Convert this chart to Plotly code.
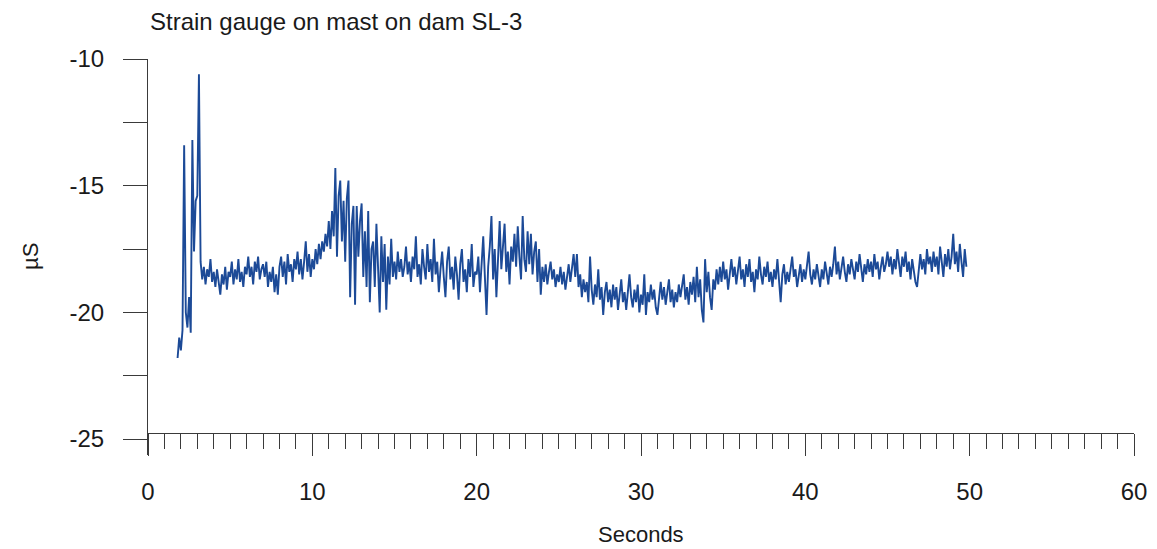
import plotly.graph_objects as go

# Sample interval of the record (seconds)
dt = 0.1

# Segment A: start-up spikes (1.8 s - 3.1 s)
seg_a_start = 1.8
seg_a = [-21.8, -21.0, -21.5, -20.7, -13.4, -20.0, -20.6, -19.4, -20.8, -13.2,
         -17.6, -15.6, -15.4, -10.6]

# Segment B: baseline (3.2 s - 10.9 s)
seg_b_start = 3.2
seg_b = [-18.0, -18.7, -18.2, -18.9, -18.3, -18.6, -17.9, -18.8,
         -18.4, -19.0, -18.3, -18.8, -19.3, -18.5, -18.9, -18.2, -19.1, -18.4,
         -18.6, -18.0, -18.9, -18.3, -18.7, -17.9, -18.8, -18.4, -19.0, -18.2,
         -18.5, -17.8, -18.6, -18.2, -18.9, -18.0, -18.4, -17.8, -18.7, -18.3,
         -18.1, -18.6, -18.0, -19.0, -18.4, -18.8, -18.2, -19.2, -18.5, -19.3,
         -18.2, -17.8, -18.6, -18.0, -18.9, -17.7, -18.4, -18.1, -18.8, -17.9,
         -18.3, -17.6, -18.5, -17.9, -18.7, -18.0, -17.2, -18.4, -17.7, -18.6,
         -17.9, -18.3, -17.5, -18.1, -17.3, -17.9, -17.2, -17.6, -16.9, -17.4]

# Segment C: large oscillation (11.0 s - 14.9 s)
seg_c_start = 11.0
seg_c = [-16.4, -17.5, -16.0, -17.0, -14.3, -17.8, -15.4, -14.8, -17.2, -15.6,
         -18.0, -15.5, -14.8, -19.4, -16.5, -15.8, -19.7, -15.8, -17.8, -16.4,
         -15.7, -18.6, -16.8, -19.0, -16.0, -19.6, -17.5, -17.2, -19.0, -16.5,
         -18.4, -20.0, -17.0, -18.8, -17.3, -19.9, -17.8, -18.9, -17.1, -18.6]

# Segment D: (15.0 s - 19.9 s)
seg_d_start = 15.0
seg_d = [-18.0, -18.7, -17.6, -18.4, -17.9, -18.6, -18.2, -17.4, -18.5, -18.0,
         -18.8, -17.8, -18.3, -17.0, -18.6, -18.1, -18.9, -17.5, -18.2, -18.7,
         -17.3, -18.4, -17.9, -18.8, -17.1, -18.5, -18.0, -19.2, -18.3, -17.6,
         -18.6, -19.4, -18.0, -17.4, -18.7, -18.2, -19.1, -17.8, -18.5, -19.5,
         -18.1, -17.5, -18.8, -18.3, -19.2, -17.9, -18.6, -17.3, -19.0, -18.4]

# Segment E: second burst (20.0 s - 25.9 s)
seg_e_start = 20.0
seg_e = [-18.5, -17.8, -19.2, -18.0, -17.0, -18.6, -20.1, -18.2, -17.4, -16.2,
         -18.7, -17.5, -19.4, -17.9, -16.4, -18.3, -17.2, -16.5, -18.4, -17.6,
         -18.9, -17.4, -18.0, -16.9, -18.2, -16.6, -17.8, -18.7, -16.2, -17.9,
         -18.4, -16.8, -18.1, -16.9, -18.5, -17.6, -17.2, -18.8, -17.5, -19.3,
         -18.2, -18.8, -18.1, -18.9, -18.4, -18.0, -18.7, -18.3, -19.0, -18.5,
         -18.8, -18.2, -18.9, -18.4, -19.1, -18.6, -18.1, -18.8, -18.3, -17.7]

# Segment F: trough (26.0 s - 34.7 s)
seg_f_start = 26.0
seg_f = [-18.6, -17.7, -19.0, -18.5, -19.4, -18.7, -19.2, -18.8, -19.6, -17.8,
         -19.1, -19.7, -18.9, -19.4, -18.3, -19.5, -19.0, -20.1, -19.2, -18.8,
         -19.6, -19.1, -19.8, -18.9, -19.5, -19.0, -19.9, -19.3, -18.7, -19.6,
         -19.2, -19.9, -19.0, -18.5, -19.4, -19.8, -19.1, -19.6, -18.9, -20.0,
         -19.3, -19.7, -18.5, -20.1, -19.2, -19.6, -18.9, -19.5, -19.1, -19.8,
         -20.1, -19.3, -18.8, -19.5, -19.0, -19.7, -19.2, -18.7, -19.6, -19.1,
         -19.8, -19.2, -19.6, -18.9, -19.4, -19.0, -18.5, -19.5, -19.0, -19.7,
         -18.8, -19.3, -18.6, -19.6, -18.2, -19.4, -18.7, -19.9, -20.4, -17.9,
         -19.2, -18.4, -19.4, -19.9, -18.7, -19.1, -18.3, -18.9]

# Segment G: (34.8 s - 40.9 s)
seg_g_start = 34.8
seg_g = [-18.2, -18.8,
         -18.0, -18.7, -18.3, -19.1, -18.5, -17.9, -18.6, -18.2, -18.9, -18.4,
         -17.8, -18.7, -18.3, -19.0, -18.1, -18.6, -17.9, -18.8, -18.4, -19.2,
         -18.3, -18.7, -17.8, -18.5, -18.9, -18.2, -18.6, -18.0, -18.8, -18.4,
         -19.0, -18.3, -18.7, -17.9, -18.6, -19.6, -18.5, -18.1, -18.9, -18.4,
         -18.8, -18.2, -17.8, -18.6, -18.3, -19.0, -18.5, -18.1, -18.8, -18.3,
         -18.7, -18.2, -17.6, -18.5, -18.9, -18.3, -18.7, -18.1, -18.6, -19.0]

# Segment H: slow rise to the end (41.0 s - 49.8 s)
seg_h_start = 41.0
seg_h = [-18.3, -18.7, -18.0, -18.5, -18.9, -18.2, -18.6, -18.1, -17.4, -18.5,
         -18.0, -18.7, -18.2, -17.8, -18.4, -18.8, -18.1, -18.5, -17.9, -18.3,
         -18.7, -18.0, -18.4, -17.7, -18.3, -18.8, -18.1, -18.5, -17.9, -18.4,
         -18.0, -18.6, -17.7, -18.3, -18.0, -18.7, -18.2, -17.8, -18.4, -18.1,
         -17.6, -18.2, -17.8, -18.5, -17.9, -18.3, -17.5, -18.1, -18.6, -17.8,
         -18.2, -17.6, -18.4, -18.0, -18.7, -17.9, -18.3, -18.8, -19.0, -18.2,
         -17.7, -18.3, -17.9, -18.5, -17.5, -18.1, -17.8, -18.4, -17.6, -18.2,
         -17.8, -18.5, -17.4, -18.0, -18.6, -17.7, -18.2, -17.5, -18.3, -17.8,
         -16.9, -18.1, -17.6, -18.4, -17.3, -18.0, -18.6, -17.5, -18.2]

segments = [(seg_a_start, seg_a), (seg_b_start, seg_b), (seg_c_start, seg_c),
            (seg_d_start, seg_d), (seg_e_start, seg_e), (seg_f_start, seg_f),
            (seg_g_start, seg_g), (seg_h_start, seg_h)]

times, values = [], []
for start, vals in segments:
    for i, v in enumerate(vals):
        times.append(round(start + i * dt, 2))
        values.append(v)

title_text = "Strain gauge on mast on dam SL-3"
x_title = "Seconds"
y_title = "µS"
x_ticks = [0, 10, 20, 30, 40, 50, 60]
y_ticks = [-10, -15, -20, -25]

FONT = "Liberation Sans, Arial, sans-serif"
AX = "#3a3a3a"
TXT = "#1a1a1a"

# The page body adds an 8 px margin, so the figure is laid out 8 px up/left.
OFF = 8
W, H = 1157 - OFF, 549 - OFF
L, T = 148 - OFF, 59 - OFF
plot_w, plot_h = 986, 396
R = W - L - plot_w
B = H - T - plot_h
bottom_px = 455  # page y of the plot-area bottom

fig = go.Figure()
fig.add_trace(go.Scatter(
    x=times, y=values, mode="lines",
    line=dict(color="#1c4a97", width=1.9),
    hoverinfo="skip", showlegend=False,
))

fig.update_layout(
    width=W, height=H,
    margin=dict(l=L, r=R, t=T, b=B),
    paper_bgcolor="white", plot_bgcolor="white",
    font=dict(family=FONT, color=TXT, size=24),
    title=dict(text=title_text, x=(150 - OFF) / W, xanchor="left", xref="container",
               y=1 - (22 - OFF) / H, yanchor="middle", yref="container",
               font=dict(size=24, family=FONT, color=TXT)),
    showlegend=False,
)

fig.update_xaxes(
    range=[0, 60], tickvals=x_ticks, ticktext=[str(v) for v in x_ticks],
    anchor="free", position=(bottom_px - 433) / plot_h,
    showline=True, linecolor=AX, linewidth=1,
    ticks="outside", ticklen=22, tickcolor=AX, tickwidth=1,
    minor=dict(dtick=1, tick0=0, ticks="outside", ticklen=15, tickcolor=AX, tickwidth=1),
    showgrid=False, zeroline=False,
    tickfont=dict(size=24, family=FONT, color=TXT),
    ticklabelstandoff=15,
    automargin=False,
)
fig.update_yaxes(
    range=[-25.63, -10], tickvals=y_ticks, ticktext=[str(v) for v in y_ticks],
    showline=True, linecolor=AX, linewidth=1,
    ticks="outside", ticklen=24, tickcolor=AX, tickwidth=1,
    minor=dict(dtick=2.5, tick0=-25, ticks="outside", ticklen=24, tickcolor=AX, tickwidth=1),
    showgrid=False, zeroline=False,
    tickfont=dict(size=24, family=FONT, color=TXT),
    ticklabelstandoff=14,
    automargin=False,
)

fig.add_annotation(text=x_title, xref="paper", yref="paper",
                   x=0.5, y=(bottom_px - 534) / plot_h, xanchor="center", yanchor="middle",
                   showarrow=False, font=dict(size=22, family=FONT, color=TXT))
fig.add_annotation(text=y_title, xref="paper", yref="paper",
                   x=(30 - 148) / plot_w, y=0.5, xanchor="center", yanchor="middle",
                   textangle=-90, showarrow=False,
                   font=dict(size=22, family=FONT, color=TXT))

fig.write_html("out.html")
